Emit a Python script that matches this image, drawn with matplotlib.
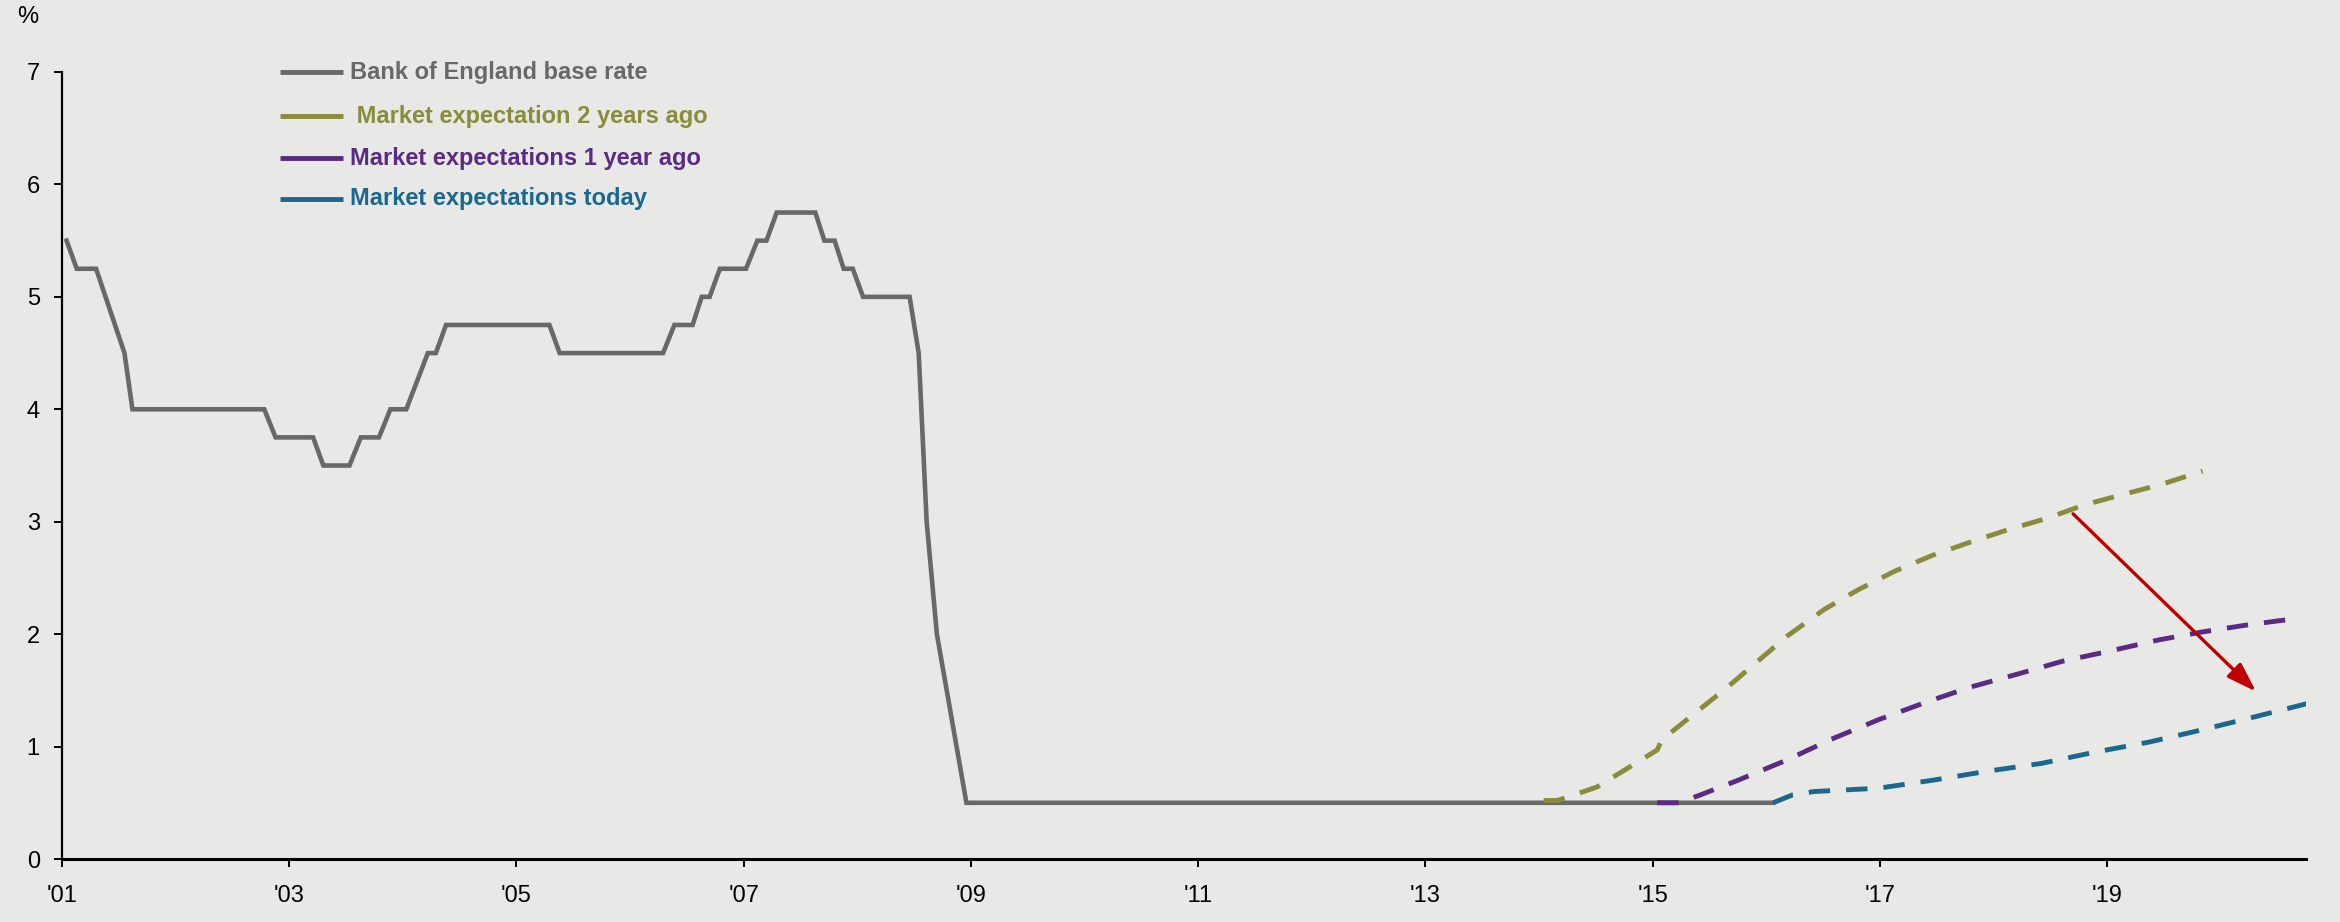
import matplotlib
matplotlib.use("Agg")
from matplotlib import pyplot as plt

plt.rcParams.update({
    "font.family": ["Liberation Sans", "DejaVu Sans"],
    "font.size": 17,
})

# Bank of England base rate (%), corners of the line
bank_years = [2001.04, 2001.13, 2001.30, 2001.55, 2001.62, 2002.78, 2002.88, 2003.21,
              2003.30, 2003.53, 2003.63, 2003.79, 2003.89, 2004.03, 2004.22, 2004.29,
              2004.38, 2005.29, 2005.38, 2006.29, 2006.39, 2006.55, 2006.63, 2006.70,
              2006.79, 2007.02, 2007.12, 2007.20, 2007.29, 2007.63, 2007.71, 2007.80,
              2007.88, 2007.96, 2008.05, 2008.46, 2008.54, 2008.61, 2008.70, 2008.96,
              2016.06]
bank_rate = [5.50, 5.25, 5.25, 4.50, 4.00, 4.00, 3.75, 3.75,
             3.50, 3.50, 3.75, 3.75, 4.00, 4.00, 4.50, 4.50,
             4.75, 4.75, 4.50, 4.50, 4.75, 4.75, 5.00, 5.00,
             5.25, 5.25, 5.50, 5.50, 5.75, 5.75, 5.50, 5.50,
             5.25, 5.25, 5.00, 5.00, 4.50, 3.00, 2.00, 0.50,
             0.50]

# Market-implied path two years ago
exp2_years = [2014.04, 2014.16, 2014.51, 2015.04, 2015.08, 2015.66, 2016.18, 2016.51,
              2016.80, 2017.13, 2017.46, 2017.80, 2018.13, 2018.47, 2018.80, 2019.13,
              2019.47, 2019.84]
exp2_rate = [0.52, 0.52, 0.64, 0.97, 1.06, 1.53, 1.98, 2.22,
             2.39, 2.56, 2.70, 2.82, 2.93, 3.03, 3.15, 3.24,
             3.33, 3.45]

# Market-implied path one year ago
exp1_years = [2015.04, 2015.23, 2015.42, 2015.75, 2016.18, 2016.56, 2016.99, 2017.42,
              2017.80, 2018.23, 2018.61, 2018.98, 2019.46, 2019.84, 2020.22, 2020.67]
exp1_rate = [0.50, 0.50, 0.57, 0.70, 0.88, 1.06, 1.24, 1.40,
             1.53, 1.65, 1.76, 1.84, 1.95, 2.02, 2.08, 2.14]

# Market-implied path today
exp0_years = [2016.06, 2016.23, 2016.42, 2016.99, 2017.46, 2017.94, 2018.42, 2018.89,
              2019.37, 2019.84, 2020.32, 2020.79]
exp0_rate = [0.50, 0.57, 0.60, 0.63, 0.70, 0.78, 0.85, 0.95,
             1.04, 1.15, 1.27, 1.39]

tick_years = [2001, 2003, 2005, 2007, 2009, 2011, 2013, 2015, 2017, 2019]
tick_labels = ["'01", "'03", "'05", "'07", "'09", "'11", "'13", "'15", "'17", "'19"]

labels = ["Bank of England base rate", " Market expectation 2 years ago",
          "Market expectations 1 year ago", "Market expectations today"]
colors = ["#686868", "#8A8C3C", "#5B2A84", "#1A6890"]

bg = "#E8E8E6"
W, H = 2340, 922
fig = plt.figure(figsize=(W / 100, H / 100), dpi=100, facecolor=bg)
x0, x1, ytop, ybot = 62, 2306, 72, 859
ax = fig.add_axes([x0 / W, 1 - ybot / H, (x1 - x0) / W, (ybot - ytop) / H])
ax.set_facecolor(bg)

dash = (4.4, 3.3)
ax.plot(exp2_years, exp2_rate, color=colors[1], lw=3.5, dashes=dash, zorder=3)
ax.plot(exp1_years, exp1_rate, color=colors[2], lw=3.5, dashes=dash, zorder=3)
ax.plot(bank_years, bank_rate, color=colors[0], lw=3.3, solid_joinstyle="miter", zorder=2)
ax.plot(exp0_years, exp0_rate, color=colors[3], lw=3.5, dashes=dash, zorder=3)

# shift in expectations
ax.annotate("", xy=(2020.31, 1.49), xytext=(2018.70, 3.07),
            arrowprops=dict(arrowstyle="-|>,head_length=0.9,head_width=0.3",
                            color="#C00000", lw=2.4, mutation_scale=20,
                            shrinkA=0, shrinkB=0), zorder=4)

ax.set_xlim(2001, 2020.75)
ax.set_ylim(0, 7)
ax.set_xticks(tick_years, tick_labels)
ax.set_yticks(range(8))
for s in ["top", "right"]:
    ax.spines[s].set_visible(False)
ax.spines["left"].set_linewidth(1.6)
ax.spines["bottom"].set_linewidth(2.2)
ax.tick_params(axis="y", length=6, width=1.4, pad=10, labelsize=17)
ax.tick_params(axis="x", length=6, width=1.4, pad=13, labelsize=17)

fig.text(28 / W, 1 - 17 / H, "%", ha="center", va="center", fontsize=17)

# legend drawn by hand
ah = ybot - ytop
rows = [72, 116, 158, 199]
for lab, c, r in zip(labels, colors, rows):
    yy = (ybot - r) / ah
    ax.plot([(280 - x0) / (x1 - x0), (343 - x0) / (x1 - x0)], [yy, yy], color=c, lw=3.5,
            transform=ax.transAxes, clip_on=False, solid_capstyle="butt")
    ax.text((350 - x0) / (x1 - x0), yy, lab, color=c, fontsize=17, fontweight="bold",
            transform=ax.transAxes, va="center", ha="left")

fig.savefig("out.png", dpi=100, facecolor=bg)
